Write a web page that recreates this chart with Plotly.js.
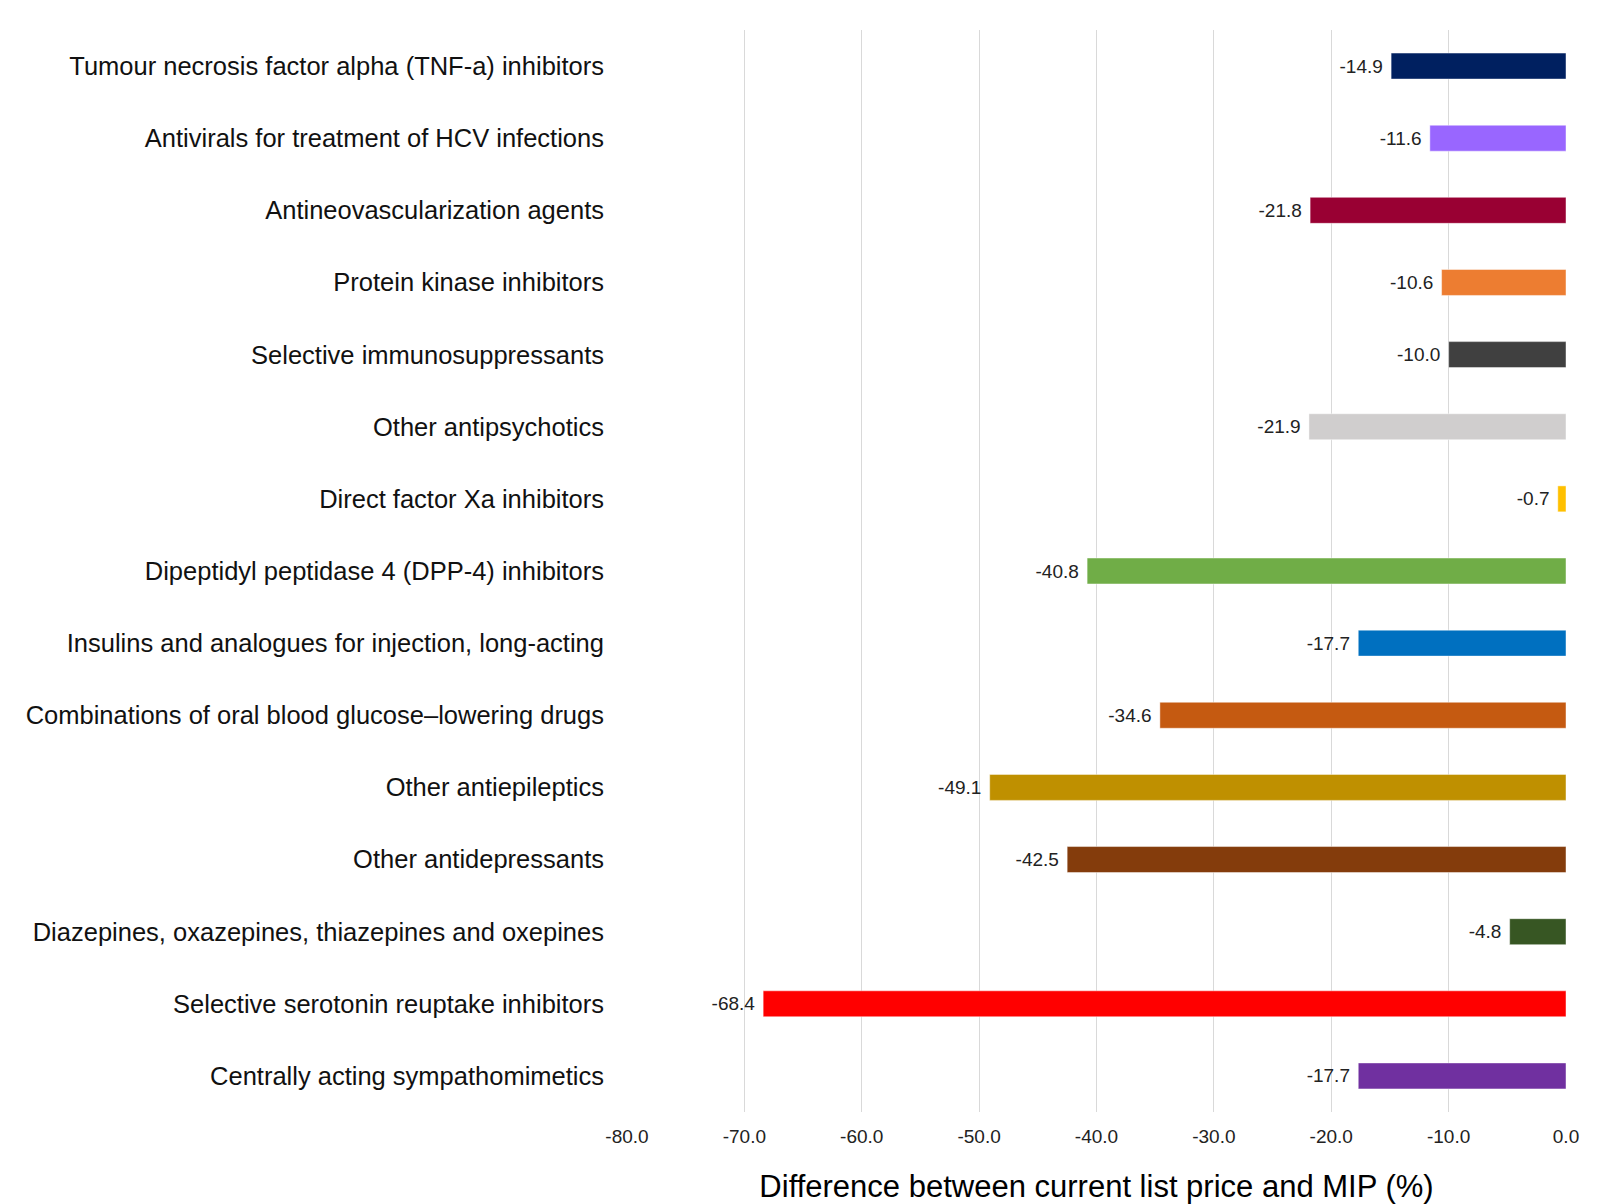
<!DOCTYPE html>
<html>
<head>
<meta charset="utf-8">
<script src="https://cdn.plot.ly/plotly-3.0.1.min.js"></script>
<style>html,body{margin:0;padding:0;background:#fff;}#chart{width:1599px;height:1204px;}</style>
</head>
<body>
<div id="chart"></div>
<script>
const categories = [
  "Tumour necrosis factor alpha (TNF-a) inhibitors",
  "Antivirals for treatment of HCV infections",
  "Antineovascularization agents",
  "Protein kinase inhibitors",
  "Selective immunosuppressants",
  "Other antipsychotics",
  "Direct factor Xa inhibitors",
  "Dipeptidyl peptidase 4 (DPP-4) inhibitors",
  "Insulins and analogues for injection, long-acting",
  "Combinations of oral blood glucose\u2013lowering drugs",
  "Other antiepileptics",
  "Other antidepressants",
  "Diazepines, oxazepines, thiazepines and oxepines",
  "Selective serotonin reuptake inhibitors",
  "Centrally acting sympathomimetics"
];
const values = [-14.9, -11.6, -21.8, -10.6, -10.0, -21.9, -0.7, -40.8, -17.7, -34.6, -49.1, -42.5, -4.8, -68.4, -17.7];
const barColors = ["#002060", "#9966FF", "#990033", "#ED7D31", "#404040", "#D0CECE", "#FFC000", "#70AD47", "#0070C0", "#C55A11", "#BF9000", "#843C0C", "#375623", "#FF0000", "#7030A0"];
const tickValues = [-80, -70, -60, -50, -40, -30, -20, -10, 0];
const tickLabels = ["-80.0", "-70.0", "-60.0", "-50.0", "-40.0", "-30.0", "-20.0", "-10.0", "0.0"];
const xTitle = "Difference between current list price and MIP (%)";

const fontFam = '"Liberation Sans", Arial, sans-serif';

const trace = {
  type: "bar",
  orientation: "h",
  x: values,
  y: categories,
  width: 0.36,
  marker: {color: barColors, line: {color: "rgba(255,255,255,0.45)", width: 1}},
  text: values.map(v => v.toFixed(1) + " "),
  textposition: "outside",
  cliponaxis: false,
  textfont: {family: fontFam, size: 19, color: "#222"},
  hoverinfo: "x+y"
};

const layout = {
  width: 1599,
  height: 1204,
  margin: {l: 627, r: 33, t: 30, b: 92},
  paper_bgcolor: "#fff",
  plot_bgcolor: "#fff",
  showlegend: false,
  bargap: 0.64,
  xaxis: {
    range: [-80, 0],
    tickvals: tickValues,
    ticktext: tickLabels,
    showgrid: true,
    gridcolor: "#d9d9d9",
    gridwidth: 1,
    zeroline: false,
    showline: false,
    ticks: "",
    tickfont: {family: fontFam, size: 19, color: "#222"},
    ticklabelstandoff: 11,
    title: {text: xTitle, font: {family: fontFam, size: 31, color: "#000"}, standoff: 29}
  },
  yaxis: {
    autorange: "reversed",
    showgrid: false,
    zeroline: false,
    showline: false,
    ticks: "",
    tickfont: {family: fontFam, size: 25.5, color: "#111"},
    ticklabelstandoff: 22
  }
};

Plotly.newPlot("chart", [trace], layout, {displayModeBar: false, responsive: false});
</script>
</body>
</html>
